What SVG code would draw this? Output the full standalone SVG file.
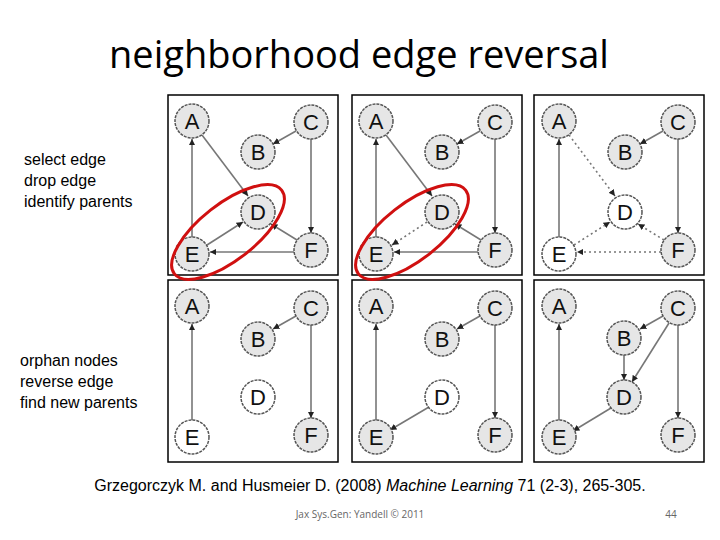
<svg xmlns="http://www.w3.org/2000/svg" width="720" height="540" viewBox="0 0 720 540">
<style>
.t{font-family:"Open Sans","Liberation Sans",sans-serif}
.s{font-family:"Liberation Sans",Arial,sans-serif}
.p{fill:#fff;stroke:#000;stroke-width:1.5}
circle{stroke:#555;stroke-width:1.5;stroke-dasharray:3 1}
.g circle{fill:#e6e6e6}.w circle{fill:#fff}
.n text{font-family:"Liberation Sans",Arial,sans-serif;font-size:22px;text-anchor:middle;fill:#111}
.e{stroke:#777;stroke-width:1.6;fill:none;marker-end:url(#ah)}
.d{stroke-dasharray:2 3}
.r{fill:none;stroke:#d01010;stroke-width:3}
</style>
<defs><marker id="ah" viewBox="0 0 6 6" refX="6" refY="3" markerWidth="4" markerHeight="4" orient="auto"><path d="M0,0L6,3L0,6z" fill="#222"/></marker></defs>
<rect width="720" height="540" fill="#fff"/>
<text class="t" x="359" y="68" font-size="38" text-anchor="middle">neighborhood edge reversal</text>
<g class="s" font-size="16">
<text x="24" y="165">select edge</text><text x="24" y="186">drop edge</text><text x="24" y="207">identify parents</text>
<text x="20" y="366">orphan nodes</text><text x="20" y="387">reverse edge</text><text x="20" y="408">find new parents</text>
<text x="370" y="491" text-anchor="middle">Grzegorczyk M. and Husmeier D. (2008) <tspan font-style="italic">Machine Learning</tspan> 71 (2-3), 265-305.</text>
</g>
<text class="t" x="360" y="518" font-size="10" text-anchor="middle" fill="#666">Jax Sys.Gen: Yandell © 2011</text>
<text class="t" x="671" y="518" font-size="10" text-anchor="middle" fill="#666">44</text>
<g id="panels">
<rect class="p" x="168" y="95" width="170" height="180"/><rect class="p" x="352" y="95" width="170" height="180"/><rect class="p" x="534" y="95" width="170" height="180"/>
<rect class="p" x="168" y="280" width="170" height="182"/><rect class="p" x="352" y="280" width="170" height="182"/><rect class="p" x="534" y="280" width="170" height="182"/>
</g>
<g id="connectors">
<path class="e" d="M192,237V139"/><path class="e" d="M202,135L248,196"/><path class="e" d="M296,131L273,144"/><path class="e" d="M311,139V233"/>
<path class="e" d="M207,245L243,222"/><path class="e" d="M297,240L271,224"/><path class="e" d="M294,252H210"/>
<path class="e" d="M376,237V139"/><path class="e" d="M386,135L432,196"/><path class="e" d="M480,131L457,144"/><path class="e" d="M495,139V233"/>
<path class="e d" d="M427,222L392,245"/><path class="e" d="M481,240L455,224"/><path class="e" d="M478,252H394"/>
<path class="e" d="M559,237V139"/><path class="e d" d="M569,135L615,196"/><path class="e" d="M663,131L640,144"/><path class="e" d="M678,139V233"/>
<path class="e d" d="M574,245L610,222"/><path class="e d" d="M664,240L638,224"/><path class="e d" d="M661,252H577"/>
<path class="e" d="M192,420V324"/><path class="e" d="M296,316L273,329"/><path class="e" d="M311,325V418"/>
<path class="e" d="M376,420V324"/><path class="e" d="M480,316L457,329"/><path class="e" d="M495,325V418"/><path class="e" d="M429,407L390,430"/>
<path class="e" d="M559,420V324"/><path class="e" d="M663,316L640,329"/><path class="e" d="M678,325V418"/><path class="e" d="M624,355V380"/><path class="e" d="M669,323L632,382"/><path class="e" d="M611,408L573,431"/>
</g>
<g id="nodes" class="n">
<g id="p1" class="g">
<g id="p1A"><circle cx="192" cy="121" r="17"/><text x="192" y="129">A</text></g>
<g id="p1B"><circle cx="258" cy="152" r="17"/><text x="258" y="160">B</text></g>
<g id="p1C"><circle cx="311" cy="122" r="17"/><text x="311" y="130">C</text></g>
<g id="p1D"><circle cx="258" cy="212" r="17"/><text x="258" y="220">D</text></g>
<g id="p1E"><circle cx="192" cy="254" r="17"/><text x="192" y="262">E</text></g>
<g id="p1F"><circle cx="311" cy="250" r="17"/><text x="311" y="258">F</text></g>
</g>
<g id="p2" class="g">
<g id="p2A"><circle cx="376" cy="121" r="17"/><text x="376" y="129">A</text></g>
<g id="p2B"><circle cx="442" cy="152" r="17"/><text x="442" y="160">B</text></g>
<g id="p2C"><circle cx="495" cy="122" r="17"/><text x="495" y="130">C</text></g>
<g id="p2D"><circle cx="442" cy="212" r="17"/><text x="442" y="220">D</text></g>
<g id="p2E"><circle cx="376" cy="254" r="17"/><text x="376" y="262">E</text></g>
<g id="p2F"><circle cx="495" cy="250" r="17"/><text x="495" y="258">F</text></g>
</g>
<g id="p3" class="g">
<g id="p3A"><circle cx="559" cy="121" r="17"/><text x="559" y="129">A</text></g>
<g id="p3B"><circle cx="625" cy="152" r="17"/><text x="625" y="160">B</text></g>
<g id="p3C"><circle cx="678" cy="122" r="17"/><text x="678" y="130">C</text></g>
<g id="p3D" class="w"><circle cx="625" cy="212" r="17"/><text x="625" y="220">D</text></g>
<g id="p3E" class="w"><circle cx="559" cy="254" r="17"/><text x="559" y="262">E</text></g>
<g id="p3F"><circle cx="678" cy="250" r="17"/><text x="678" y="258">F</text></g>
</g>
<g id="p4" class="g">
<g id="p4A"><circle cx="192" cy="306" r="17"/><text x="192" y="314">A</text></g>
<g id="p4B"><circle cx="258" cy="339" r="17"/><text x="258" y="347">B</text></g>
<g id="p4C"><circle cx="311" cy="308" r="17"/><text x="311" y="316">C</text></g>
<g id="p4D" class="w"><circle cx="258" cy="397" r="17"/><text x="258" y="405">D</text></g>
<g id="p4E" class="w"><circle cx="192" cy="437" r="17"/><text x="192" y="445">E</text></g>
<g id="p4F"><circle cx="311" cy="435" r="17"/><text x="311" y="443">F</text></g>
</g>
<g id="p5" class="g">
<g id="p5A"><circle cx="376" cy="306" r="17"/><text x="376" y="314">A</text></g>
<g id="p5B"><circle cx="442" cy="339" r="17"/><text x="442" y="347">B</text></g>
<g id="p5C"><circle cx="495" cy="308" r="17"/><text x="495" y="316">C</text></g>
<g id="p5D" class="w"><circle cx="442" cy="397" r="17"/><text x="442" y="405">D</text></g>
<g id="p5E"><circle cx="376" cy="437" r="17"/><text x="376" y="445">E</text></g>
<g id="p5F"><circle cx="495" cy="435" r="17"/><text x="495" y="443">F</text></g>
</g>
<g id="p6" class="g">
<g id="p6A"><circle cx="559" cy="306" r="17"/><text x="559" y="314">A</text></g>
<g id="p6B"><circle cx="624" cy="338" r="17"/><text x="624" y="346">B</text></g>
<g id="p6C"><circle cx="678" cy="308" r="17"/><text x="678" y="316">C</text></g>
<g id="p6D"><circle cx="624" cy="397" r="17"/><text x="624" y="405">D</text></g>
<g id="p6E"><circle cx="559" cy="437" r="17"/><text x="559" y="445">E</text></g>
<g id="p6F"><circle cx="678" cy="435" r="17"/><text x="678" y="443">F</text></g>
</g>
</g>
<g id="highlights">
<ellipse class="r" cx="228" cy="232" rx="68" ry="28" transform="rotate(-38 228 232)"/>
<ellipse class="r" cx="412" cy="232" rx="68" ry="28" transform="rotate(-38 412 232)"/>
</g>
</svg>
